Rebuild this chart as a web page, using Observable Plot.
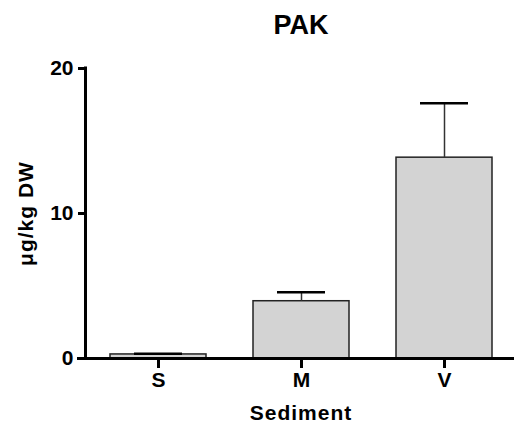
<!DOCTYPE html>
<html>
<head>
<meta charset="utf-8">
<script src="https://cdn.jsdelivr.net/npm/d3@7"></script>
<script src="https://cdn.jsdelivr.net/npm/@observablehq/plot@0.6"></script>
<style>
  html, body { margin: 0; padding: 0; background: #fff; }
  #chart svg { display: block; }
</style>
</head>
<body>
<div id="chart"></div>
<script>
const title = "PAK";
const categories = ["S", "M", "V"];
const means = [0.28, 3.95, 13.85];
const upperErr = [0.33, 4.57, 17.6];
const yTicks = [0, 10, 20];
const xLabel = "Sediment";
const yLabel = "μg/kg DW";

const data = categories.map((c, i) => ({cat: c, mean: means[i], hi: upperErr[i]}));
const font = "'Liberation Sans', Arial, sans-serif";

const yAxisLine = (index, scales, values, dimensions) => {
  const g = d3.create("svg:g");
  const x = dimensions.marginLeft - 1.5;
  g.append("line")
    .attr("x1", x).attr("x2", x)
    .attr("y1", scales.y(yTicks[yTicks.length - 1]) - 1.5)
    .attr("y2", scales.y(0) + 1.5)
    .attr("stroke", "#000").attr("stroke-width", 3);
  return g.node();
};

const chart = Plot.plot({
  width: 514,
  height: 424,
  marginLeft: 87,
  marginRight: 0,
  marginTop: 68,
  marginBottom: 66,
  style: {fontFamily: font, fontWeight: "bold", fontSize: "20px", color: "#000", background: "#fff"},
  x: {domain: categories, paddingInner: 0.33, paddingOuter: 0.15, label: null},
  y: {domain: [0, 20], label: null},
  marks: [
    Plot.barY(data, {x: "cat", y: "mean", fill: "#d3d3d3", stroke: "#222", strokeWidth: 1.5}),
    Plot.ruleX(data, {x: "cat", y1: "mean", y2: "hi", stroke: "#333", strokeWidth: 1.5}),
    Plot.tickY(data, {x: "cat", y: "hi", stroke: "#000", strokeWidth: 2.5, insetLeft: 24, insetRight: 24}),
    Plot.ruleY([0], {stroke: "#000", strokeWidth: 3, insetLeft: -10}),
    yAxisLine,
    Plot.axisY({ticks: yTicks, tickSize: 9, strokeWidth: 3, tickPadding: 5, fontSize: 21, tickFormat: d => String(d)}),
    Plot.axisX({tickSize: 10, strokeWidth: 3, tickPadding: 4, fontSize: 21}),
    Plot.text([title], {frameAnchor: "top", dy: -43, fontSize: 27, fontWeight: "bold", lineAnchor: "middle"}),
    Plot.text([xLabel], {frameAnchor: "bottom", dy: 55, fontSize: 21, fontWeight: "bold", lineAnchor: "middle"}),
    Plot.text([yLabel], {frameAnchor: "left", dx: -61, rotate: -90, fontSize: 21, fontWeight: "bold", textAnchor: "middle", lineAnchor: "middle"})
  ]
});
// enlarge axis tick labels and widen axis titles to match the reference typography
const svg = d3.select(chart);
svg.selectAll("g").filter(function () {
  const a = this.getAttribute("aria-label") || "";
  return a.indexOf("tick label") >= 0;
}).each(function () {
  d3.select(this).attr("font-size", 21).style("font-size", "21px");
  d3.select(this).selectAll("text").attr("font-size", 21).style("font-size", "21px");
});
svg.selectAll("text").filter(function () { return this.textContent === xLabel || this.textContent === yLabel; })
  .style("letter-spacing", "1px");
document.getElementById("chart").appendChild(chart);
</script>
</body>
</html>
